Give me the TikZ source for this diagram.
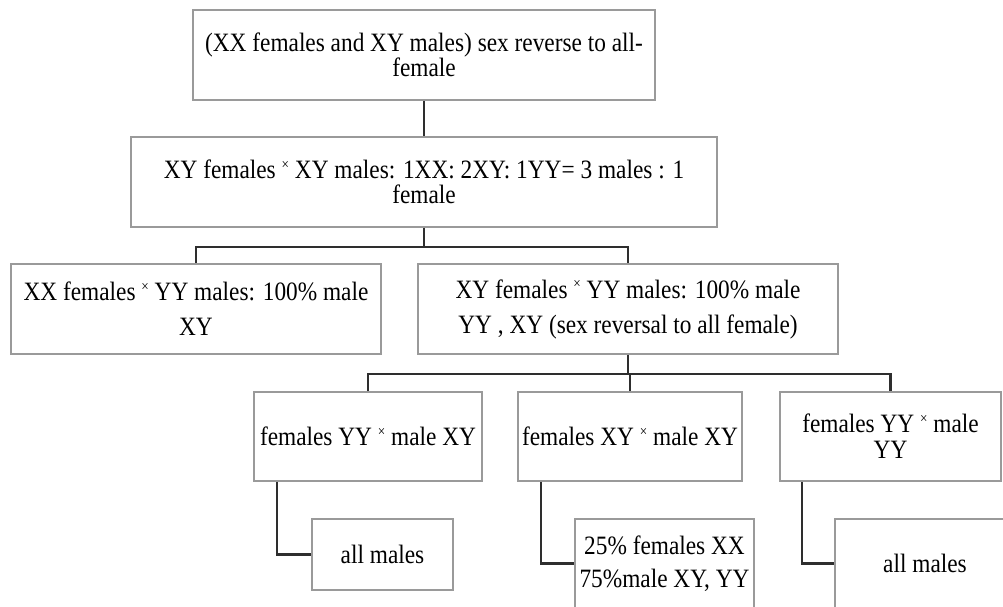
\documentclass[tikz,border=0pt]{standalone}
\usepackage{fontspec}
\setmainfont{Liberation Serif}[FakeStretch=0.88]
\usetikzlibrary{calc}
\definecolor{boxgray}{HTML}{9A9A9A}
\definecolor{linkgray}{HTML}{2E2E2E}
\newcommand{\smx}{\raisebox{0.36em}{\fontsize{15}{15}\selectfont ×}}
\begin{document}
\begin{tikzpicture}[x=1pt,y=-1pt,
  box/.style={draw=boxgray,line width=1.6pt,inner sep=0pt,align=center,
    font=\fontsize{26.5}{25}\selectfont},
  link/.style={draw=linkgray,line width=2.2pt}]
\fill[white] (0,0) rectangle (1003,606);
\useasboundingbox (0,0) rectangle (1003,606);
\clip (0,0) rectangle (1003,606);
% boxes
\node[box,minimum width=462pt,minimum height=90pt] (root) at (424,55)
  {(XX females and XY males) sex reverse to all-\\female};
\node[box,minimum width=586pt,minimum height=90pt] (cross1) at (424,182)
  {XY females \smx{} XY males: 1XX: 2XY: 1YY= 3 males : 1\\female};
\node[box,minimum width=370pt,minimum height=90pt] (crossA) at (196,309)
  {XX females \smx{} YY males: 100\% male\\[10pt]XY};
\node[box,minimum width=420pt,minimum height=90pt] (crossB) at (628,309)
  {XY females \smx{} YY males: 100\% male\\[10pt]YY , XY (sex reversal to all female)};
\node[box,minimum width=228pt,minimum height=89pt] (c1) at (368,436.5)
  {females YY \smx{} male XY};
\node[box,minimum width=224pt,minimum height=89pt] (c2) at (630,436.5)
  {females XY \smx{} male XY};
\node[box,minimum width=221pt,minimum height=89pt] (c3) at (890.5,436.5)
  {females YY \smx{} male\\[1pt]YY};
\node[box,minimum width=141pt,minimum height=71pt] (r1) at (382.5,554.5)
  {all males};
\node[box,minimum width=179pt,minimum height=89pt] (r2) at (664.5,563.5)
  {25\% females XX\\[8pt]75\%male XY, YY};
\node[box,minimum width=180pt,minimum height=89pt] (r3) at (925,563.5)
  {all males};
% connectors
\draw[link] (root.south) -- (cross1.north);
\draw[link] (cross1.south) -- ++(0,19) coordinate (j1);
\draw[link] (crossA.north) |- (j1) -| (crossB.north);
\draw[link] (crossB.south) -- ++(0,19) coordinate (j2);
\draw[link] (c1.north) |- (j2) -| (c3.north);
\draw[link] (j2) -| (c2.north);
\draw[link] ($(c1.south west)+(24,0)$) |- (r1.west);
\draw[link] ($(c2.south west)+(24,0)$) |- (r2.west);
\draw[link] ($(c3.south west)+(23,0)$) |- (r3.west);
\end{tikzpicture}
\end{document}
